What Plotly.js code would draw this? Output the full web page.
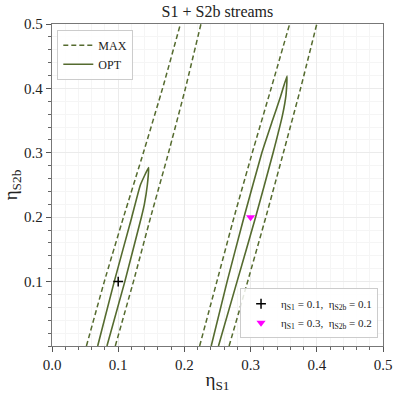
<!DOCTYPE html>
<html>
<head>
<meta charset="utf-8">
<script src="https://cdn.plot.ly/plotly-3.0.1.min.js"></script>
<style>
  html, body { margin: 0; padding: 0; background: #fff; }
  #chart { width: 399px; height: 393px; }
</style>
</head>
<body>
<div id="chart"></div>
<script>
// values (eta_S1, eta_S2b)

// left stream group, MAX contour (two sides, clipped by the axes)
const maxLeftA_x = [0.052, 0.079, 0.108, 0.138, 0.167, 0.194];
const maxLeftA_y = [0.0, 0.1, 0.2, 0.3, 0.4, 0.5];
const maxLeftB_x = [0.0956, 0.123, 0.149, 0.176, 0.2015, 0.225];
const maxLeftB_y = [0.0, 0.1, 0.2, 0.3, 0.4, 0.5];

// left stream group, OPT contour (up one side, round the tip, down the other)
const optLeft_x = [0.069, 0.094, 0.1205, 0.1335, 0.146, 0.1440, 0.1395, 0.135, 0.110, 0.083];
const optLeft_y = [0.0, 0.1, 0.2, 0.25, 0.277, 0.25, 0.22, 0.2, 0.1, 0.0];

// right stream group, MAX contour
const maxRightA_x = [0.223, 0.249, 0.275, 0.3025, 0.331, 0.359];
const maxRightA_y = [0.0, 0.1, 0.2, 0.3, 0.4, 0.5];
const maxRightB_x = [0.2675, 0.2955, 0.323, 0.3495, 0.3755, 0.4];
const maxRightB_y = [0.0, 0.1, 0.2, 0.3, 0.4, 0.5];

// right stream group, OPT contour
const optRight_x = [0.2405, 0.2645, 0.290, 0.317, 0.333, 0.3445, 0.355, 0.3535, 0.3485, 0.334, 0.3075, 0.2795, 0.2515];
const optRight_y = [0.0, 0.1, 0.2, 0.3, 0.35, 0.385, 0.419, 0.39, 0.36, 0.3, 0.2, 0.1, 0.0];

// true values
const truth1 = { x: [0.1], y: [0.1] };
const truth2 = { x: [0.3], y: [0.2] };

const green = "#556b2f";
const font = "Liberation Serif, DejaVu Serif, serif";

const dashed = { color: green, width: 1.5, dash: "5px,3px", shape: "spline", smoothing: 0.4 };
const solid  = { color: green, width: 1.6, shape: "spline", smoothing: 0.4 };

const traces = [
  { x: maxLeftA_x, y: maxLeftA_y, mode: "lines", line: dashed, name: "MAX" },
  { x: maxLeftB_x, y: maxLeftB_y, mode: "lines", line: dashed, showlegend: false },
  { x: maxRightA_x, y: maxRightA_y, mode: "lines", line: dashed, showlegend: false },
  { x: maxRightB_x, y: maxRightB_y, mode: "lines", line: dashed, showlegend: false },
  { x: optLeft_x, y: optLeft_y, mode: "lines", line: solid, name: "OPT" },
  { x: optRight_x, y: optRight_y, mode: "lines", line: solid, showlegend: false },
  {
    x: truth1.x, y: truth1.y, mode: "markers", legend: "legend2",
    name: "η<sub>S1</sub> = 0.1,  η<sub>S2b</sub> = 0.1",
    marker: { symbol: "cross-thin", size: 7, line: { color: "#000", width: 1.5 } },
  },
  {
    x: truth2.x, y: truth2.y, mode: "markers", legend: "legend2",
    name: "η<sub>S1</sub> = 0.3,  η<sub>S2b</sub> = 0.2",
    marker: { symbol: "triangle-down", size: 8, color: "#ff00ff" },
  },
];

const axisCommon = {
  range: [0, 0.5],
  showline: true, mirror: true, linecolor: "#777", linewidth: 1.3,
  ticks: "outside", ticklen: 5, tickcolor: "#555", tickwidth: 1,
  showgrid: true, gridcolor: "#ebebeb", gridwidth: 1,
  zeroline: false,
  tickfont: { family: font, size: 15, color: "#222" },
  minor: { dtick: 0.02, ticks: "outside", ticklen: 3, tickcolor: "#666", showgrid: true, gridcolor: "#f5f5f5" },
};

const layout = {
  width: 399, height: 393,
  margin: { l: 52, r: 16, t: 24, b: 47 },
  paper_bgcolor: "#fff", plot_bgcolor: "#fff",
  font: { family: font, color: "#222" },
  title: { text: "S1 + S2b streams", font: { family: font, size: 16, color: "#222" }, x: 0.545, xanchor: "center", y: 0.985, yanchor: "top" },
  xaxis: Object.assign({}, axisCommon, {
    tickvals: [0, 0.1, 0.2, 0.3, 0.4, 0.5], ticktext: ["0.0", "0.1", "0.2", "0.3", "0.4", "0.5"],
    title: { text: "η<sub>S1</sub>", font: { family: font, size: 19 }, standoff: 2 },
  }),
  yaxis: Object.assign({}, axisCommon, {
    tickvals: [0.1, 0.2, 0.3, 0.4, 0.5], ticktext: ["0.1", "0.2", "0.3", "0.4", "0.5"],
    title: { text: "η<sub>S2b</sub>", font: { family: font, size: 19 }, standoff: 6 },
  }),
  legend: {
    x: 0.016, y: 0.982, xanchor: "left", yanchor: "top",
    bgcolor: "rgba(255,255,255,0.85)", bordercolor: "#ccc", borderwidth: 1,
    tracegroupgap: 0,
    font: { family: font, size: 12, color: "#222" },
  },
  legend2: {
    x: 0.985, y: 0.024, xanchor: "right", yanchor: "bottom",
    bgcolor: "rgba(255,255,255,0.85)", bordercolor: "#ccc", borderwidth: 1,
    tracegroupgap: 0,
    font: { family: font, size: 11, color: "#222" },
  },
  showlegend: true,
};

Plotly.newPlot("chart", traces, layout, { displayModeBar: false, staticPlot: true });
</script>
</body>
</html>
